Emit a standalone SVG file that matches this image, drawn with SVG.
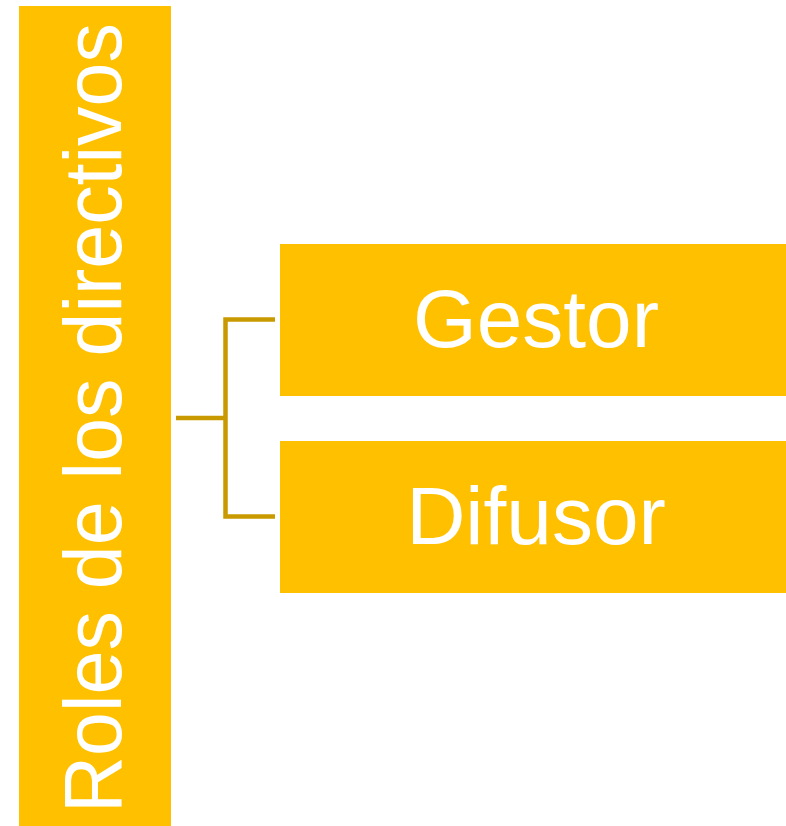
<svg xmlns="http://www.w3.org/2000/svg" width="786" height="826" viewBox="0 0 786 826">
<style>
.box{fill:#FFC000}
.lbl{fill:#FFFFFF;font-family:"Liberation Sans",Arial,sans-serif;font-size:82px;text-anchor:middle}
.conn{stroke:#C99A00;stroke-width:4.5;fill:none}
</style>
<rect width="786" height="826" fill="#FFFFFF"/>
<g id="roles">
<rect class="box" x="19" y="6" width="152" height="820"/>
<text class="lbl" transform="translate(121,418) rotate(-90)" textLength="790" lengthAdjust="spacingAndGlyphs">Roles de los directivos</text>
</g>
<g id="connectors">
<path class="conn" d="M176,418 H225.5 M275,319.5 H225.5 V516.5 H275"/>
</g>
<g id="gestor">
<rect class="box" x="280" y="244" width="506" height="152"/>
<text class="lbl" x="536" y="347">Gestor</text>
</g>
<g id="difusor">
<rect class="box" x="280" y="441" width="506" height="152"/>
<text class="lbl" x="536" y="544">Difusor</text>
</g>
</svg>
